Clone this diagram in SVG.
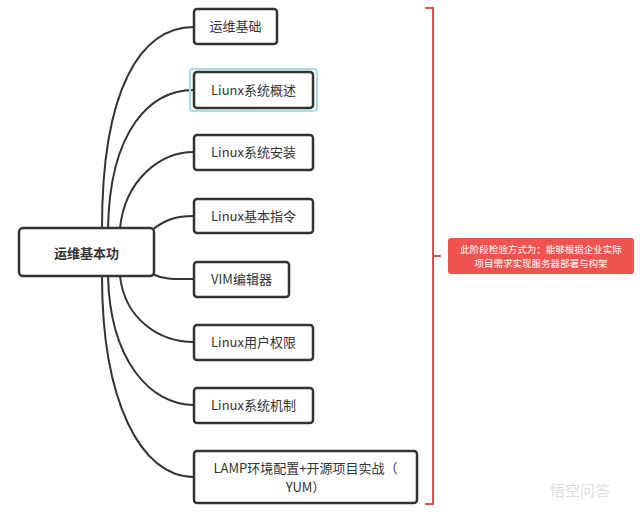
<svg xmlns="http://www.w3.org/2000/svg" width="640" height="513" viewBox="0 0 640 513">
<style>
.n{fill:#fff;stroke:#333;stroke-width:2.5}
.t{font-family:"Noto Sans CJK SC","Liberation Sans",sans-serif;font-size:13px;fill:#333}
.c{fill:none;stroke:#333;stroke-width:2}
.r{fill:none;stroke:#d9534f;stroke-width:2}
</style>
<rect width="640" height="513" fill="#fff"/>
<g id="connectors">
<path class="c" d="M102,228 C102,90 140,27 194,27"/>
<path class="c" d="M108,228 C110,130 150,90 194,90"/>
<path class="c" d="M120,228 C125,180 160,152 194,152"/>
<path class="c" d="M152,230 C165,220 175,216 194,216"/>
<path class="c" d="M152,274 C165,280 175,279 194,279"/>
<path class="c" d="M120,276 C125,320 160,342 194,342"/>
<path class="c" d="M108,276 C110,360 150,405 194,405"/>
<path class="c" d="M102,276 C102,400 140,477 194,477"/>
</g>
<g id="root"><rect class="n" x="19" y="228" width="135" height="48" rx="4"/><text class="t" x="86.5" y="258" text-anchor="middle" font-size="17" font-weight="bold">运维基本功</text></g>
<g id="n1"><rect class="n" x="194" y="9" width="83" height="35" rx="3"/><text class="t" x="235.5" y="31" text-anchor="middle">运维基础</text></g>
<g id="n2"><rect x="190" y="69" width="127" height="42" rx="3" fill="none" stroke="#a8dde6" stroke-width="2"/><rect class="n" x="194" y="72" width="119" height="36" rx="3"/><text class="t" x="253.5" y="95" text-anchor="middle">Liunx系统概述</text></g>
<g id="n3"><rect class="n" x="194" y="135" width="119" height="35" rx="3"/><text class="t" x="253.5" y="157" text-anchor="middle">Linux系统安装</text></g>
<g id="n4"><rect class="n" x="194" y="199" width="119" height="34" rx="3"/><text class="t" x="253.5" y="221" text-anchor="middle">Linux基本指令</text></g>
<g id="n5"><rect class="n" x="194" y="262" width="95" height="35" rx="3"/><text class="t" x="241.5" y="284" text-anchor="middle">VIM编辑器</text></g>
<g id="n6"><rect class="n" x="194" y="325" width="119" height="35" rx="3"/><text class="t" x="253.5" y="347" text-anchor="middle">Linux用户权限</text></g>
<g id="n7"><rect class="n" x="194" y="388" width="119" height="35" rx="3"/><text class="t" x="253.5" y="410" text-anchor="middle">Linux系统机制</text></g>
<g id="n8"><rect class="n" x="194" y="451" width="223" height="52" rx="3"/><text class="t" x="305.5" y="473" text-anchor="middle">LAMP环境配置+开源项目实战（</text><text class="t" x="305.5" y="492" text-anchor="middle">YUM）</text></g>
<g id="bracket"><path class="r" d="M425,8 H433 V504 H425 M433,256 H441"/></g>
<g id="note"><rect x="448" y="238" width="186" height="36" rx="3" fill="#ef5350"/><text x="541" y="253" text-anchor="middle" font-family="Noto Sans CJK SC,sans-serif" font-size="9.5" fill="#fff">此阶段检验方式为：能够根据企业实际</text><text x="541" y="267" text-anchor="middle" font-family="Noto Sans CJK SC,sans-serif" font-size="9.5" fill="#fff">项目需求实现服务器部署与构架</text></g>
<text x="580" y="496" text-anchor="middle" font-family="Noto Sans CJK SC,sans-serif" font-size="15" fill="#ddd">悟空问答</text>
</svg>
